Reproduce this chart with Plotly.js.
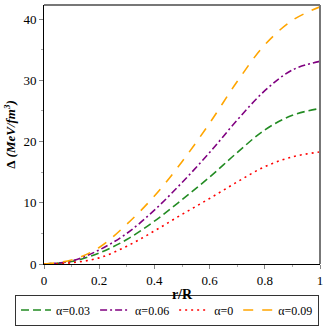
<!DOCTYPE html>
<html>
<head>
<meta charset="utf-8">
<script src="https://cdn.plot.ly/plotly-3.0.1.min.js"></script>
<style>
  html, body { margin: 0; padding: 0; background: #fff; }
  #chart { width: 327px; height: 327px; }
</style>
</head>
<body>
<div id="chart"></div>
<script>
// radius r/R and gap values for each alpha
const rR = [0, 0.1, 0.2, 0.3, 0.4, 0.5, 0.6, 0.7, 0.8, 0.9, 1.0];
const gapA003 = [0, 0.4, 1.8, 4.0, 7.0, 10.5, 14.2, 18.2, 21.9, 24.3, 25.4];
const gapA006 = [0, 0.5, 2.3, 5.0, 8.8, 13.3, 18.2, 23.5, 28.3, 31.7, 33.1];
const gapA0   = [0, 0.2, 1.0, 2.9, 5.4, 8.1, 10.7, 13.4, 15.9, 17.5, 18.3];
const gapA009 = [0, 0.65, 2.7, 6.5, 11.1, 16.7, 23.0, 29.8, 35.8, 39.8, 42.0];
const labels = ['α=0.03', 'α=0.06', 'α=0', 'α=0.09'];

const font = 'Liberation Serif, Times New Roman, serif';

function trace(y, name, color, dash) {
    return {
        x: rR, y: y, name: name, type: 'scatter', mode: 'lines',
        line: { color: color, width: 1.6, dash: dash, shape: 'spline', smoothing: 1 }
    };
}

const data = [
    trace(gapA003, labels[0], '#228B22', '8px,4px'),
    trace(gapA006, labels[1], '#800080', '7px,3px,2px,3px'),
    trace(gapA0, labels[2], '#FF0000', '2px,4px'),
    trace(gapA009, labels[3], '#FFA500', '10px,9px')
];

const layout = {
    width: 327, height: 327,
    margin: { l: 44, r: 7, t: 5, b: 63, autoexpand: false },
    paper_bgcolor: '#fff', plot_bgcolor: '#fff',
    font: { family: font, size: 13, color: '#000' },
    showlegend: true,
    legend: {
        orientation: 'h', x: -0.105, y: -0.118, xanchor: 'left', yanchor: 'top',
        bordercolor: '#333', borderwidth: 1, font: { family: font, size: 12 },
        tracegroupgap: 0
    },
    xaxis: {
        range: [0, 1], dtick: 0.2, showgrid: false, zeroline: false,
        showline: true, linecolor: '#000', linewidth: 1,
        ticks: 'outside', ticklen: 4, tickcolor: '#888',
        minor: { dtick: 0.1, ticks: 'outside', ticklen: 2, tickcolor: '#aaa' },
        title: { text: '<b>r/R</b>', font: { family: font, size: 14 }, standoff: 2 }
    },
    yaxis: {
        range: [0, 42.3], dtick: 10, showgrid: false, zeroline: false,
        showline: true, linecolor: '#000', linewidth: 1,
        ticks: 'outside', ticklen: 4, tickcolor: '#888',
        minor: { dtick: 5, ticks: 'outside', ticklen: 2, tickcolor: '#aaa' },
        title: { text: '<b>Δ</b> <b><i>(MeV/fm<sup>3</sup>)</i></b>', font: { family: font, size: 13 }, standoff: 4 }
    },
    shapes: [
        { type: 'line', xref: 'paper', yref: 'paper', x0: 0, x1: 1, y0: 1, y1: 1, line: { color: '#777', width: 2 } },
        { type: 'line', xref: 'paper', yref: 'paper', x0: 1, x1: 1, y0: 0, y1: 1, line: { color: '#777', width: 2 } }
    ]
};

Plotly.newPlot('chart', data, layout, { displayModeBar: false, staticPlot: true });
</script>
</body>
</html>
